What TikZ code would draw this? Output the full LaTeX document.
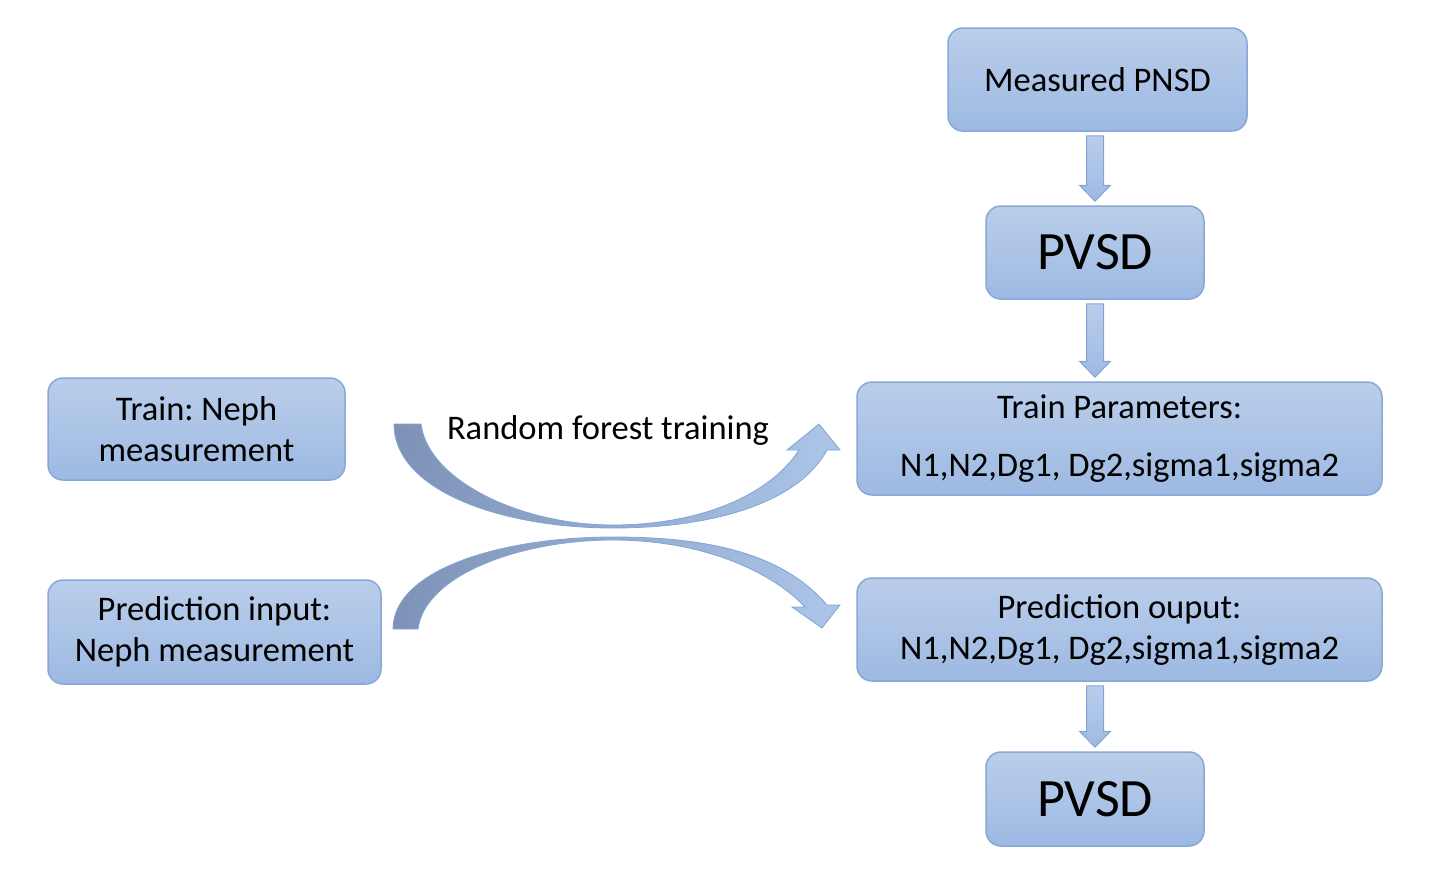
\documentclass[tikz,border=0pt]{standalone}
\usepackage{fontspec}
\setmainfont{Carlito}
\usetikzlibrary{calc}
\frenchspacing
\definecolor{boxtop}{RGB}{186,206,234}
\definecolor{boxbot}{RGB}{157,185,226}
\definecolor{boxline}{RGB}{135,168,214}
\definecolor{arrdark}{RGB}{125,146,182}
\definecolor{arrlight}{RGB}{172,197,233}
\definecolor{arrline}{RGB}{128,165,216}
\tikzset{
 box/.style={draw=boxline, line width=1.5pt, rounded corners=15pt, top color=boxtop, bottom color=boxbot, inner sep=0pt, align=center, font=\fontsize{34.5}{41}\selectfont},
 bigbox/.style={box, font=\fontsize{54}{60}\selectfont},
 blockarr/.style={draw=arrline, line width=1pt, top color=boxtop, bottom color=boxbot},
 curvarr/.style={draw=arrline, line width=0.8pt, left color=arrdark, right color=arrlight},
 lbl/.style={font=\fontsize{34.5}{41}\selectfont, inner sep=0pt}
}
\newcommand\vblock[3]{\draw[blockarr] let \p1=(#3.center), \p2=(#1.south), \p3=(#2.north) in (\x1-8.5pt,\y2-4pt) -- (\x1+8.5pt,\y2-4pt) -- (\x1+8.5pt,\y3+20pt) -- (\x1+15.5pt,\y3+20pt) -- (\x1,\y3+4pt) -- (\x1-15.5pt,\y3+20pt) -- (\x1-8.5pt,\y3+20pt) -- cycle;}
\begin{document}
\begin{tikzpicture}[x=1pt,y=-1pt]
\useasboundingbox (0,0) rectangle (1430,870);
\node[box, minimum width=299pt, minimum height=103pt] (mp) at (1097.5,79.5) {Measured PNSD};
\node[bigbox, minimum width=218pt, minimum height=93pt] (pv1) at (1095,252.5) {PVSD};
\node[box, minimum width=525pt, minimum height=113pt] (tp) at (1119.5,438.5) {Train Parameters:\\[17pt]N1,N2,Dg1, Dg2,sigma1,sigma2};
\node[box, minimum width=525pt, minimum height=103pt] (po) at (1119.5,629.5) {Prediction ouput:\\N1,N2,Dg1, Dg2,sigma1,sigma2};
\node[bigbox, minimum width=218pt, minimum height=94pt] (pv2) at (1095,799) {PVSD};
\node[box, minimum width=297pt, minimum height=102pt] (tn) at (196.5,429) {Train: Neph\\measurement};
\node[box, minimum width=333pt, minimum height=104pt] (pin) at (214.5,632) {Prediction input:\\Neph measurement};
\node[lbl] (rf) at (608,430) {Random forest training};
\vblock{mp}{pv1}{pv1}
\vblock{pv1}{tp}{pv1}
\vblock{po}{pv2}{pv2}
% top curved arrow (training)
\draw[curvarr] (394,424) .. controls (394,490) and (500,528) .. (613,528)
  .. controls (720,528) and (800,500) .. (827,450) -- (840,450) -- (819,424) -- (787,450) -- (799,450)
  .. controls (770,495) and (700,525) .. (613,525)
  .. controls (520,525) and (428,480) .. (421,424) -- cycle;
% bottom curved arrow (prediction)
\draw[curvarr] (393,629) .. controls (393,570) and (500,537) .. (613,537)
  .. controls (700,537) and (780,550) .. (827,605) -- (840,605) -- (822,628) -- (792,607) -- (805,607)
  .. controls (770,570) and (700,540) .. (613,540)
  .. controls (520,540) and (425,575) .. (418,629) -- cycle;
\end{tikzpicture}
\end{document}
